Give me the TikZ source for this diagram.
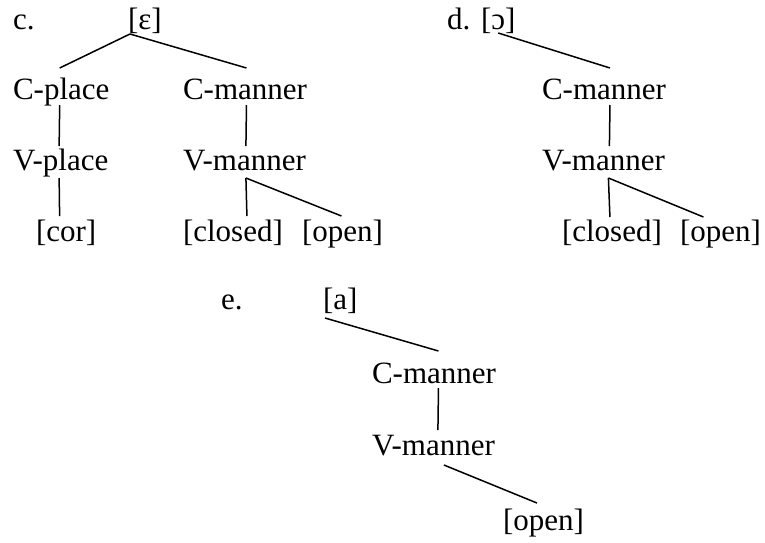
\documentclass[tikz,border=0pt]{standalone}
\usepackage{fontspec}
\setmainfont{LiberationSerif}[Extension=.ttf, UprightFont=*-Regular, BoldFont=*-Bold, ItalicFont=*-Italic, BoldItalicFont=*-BoldItalic]
\usetikzlibrary{calc}
\begin{document}
\begin{tikzpicture}[x=1pt,y=1pt,
  tx/.style={inner sep=0pt, outer sep=0pt, anchor=base west, text height=21pt, text depth=7pt, font=\rmfamily\fontsize{31}{37}\selectfont},
  br/.style={line width=1.5pt}]
\useasboundingbox (0,0) rectangle (765,-542);
% tree c
\node[tx] (c) at (13,-29) {c.};
\node[tx] (eps) at (128,-29) {[ɛ]};
\node[tx] (cp) at (13,-99) {C-place};
\node[tx] (cm1) at (183,-99) {C-manner};
\node[tx] (vp) at (13,-170) {V-place};
\node[tx] (vm1) at (183,-170) {V-manner};
\node[tx] (cor) at (36,-241) {[cor]};
\node[tx] (cl1) at (183,-241) {[closed]};
\node[tx] (op1) at (302,-241) {[open]};
% tree d
\node[tx] (d) at (447,-29) {d.};
\node[tx] (oo) at (481,-29) {[ɔ]};
\node[tx] (cm2) at (542,-99) {C-manner};
\node[tx] (vm2) at (542,-170) {V-manner};
\node[tx] (cl2) at (562,-241) {[closed]};
\node[tx] (op2) at (680,-241) {[open]};
% tree e
\node[tx] (e) at (221,-309) {e.};
\node[tx] (a) at (323,-309) {[a]};
\node[tx] (cm3) at (372,-383) {C-manner};
\node[tx] (vm3) at (372,-455) {V-manner};
\node[tx] (op3) at (503,-530) {[open]};
% connectors c
\coordinate (ce) at ($(eps.south west)+(2,2)$);
\draw[br] (ce) -- ($(cp.north)+(-1.5,10)$);
\draw[br] (ce) -- ($(cm1.north)+(1.5,10)$);
\draw[br] ($(cp.south)+(-1.5,1)$) -- ($(vp.north)+(-1.5,3)$);
\draw[br] ($(cm1.south)+(1.5,1)$) -- ($(vm1.north)+(1.5,3)$);
\draw[br] ($(vp.south)+(-1.5,-1)$) -- ($(cor.north)+(-6.5,4)$);
\coordinate (v1) at ($(vm1.south)+(1.5,-1)$);
\draw[br] (v1) -- ($(cl1.north)+(14,4)$);
\draw[br] (v1) -- ($(op1.north)+(-1,4)$);
% connectors d
\draw[br] ($(oo.south)+(0,3)$) -- ($(cm2.north)+(6,10)$);
\draw[br] ($(cm2.south)+(6,1)$) -- ($(vm2.north)+(6,3)$);
\coordinate (v2) at ($(vm2.south)+(5,-1)$);
\draw[br] (v2) -- ($(cl2.north)+(-2,3)$);
\draw[br] (v2) -- ($(op2.north)+(-17,3)$);
% connectors e
\draw[br] ($(a.south west)+(2,-2)$) -- ($(cm3.north)+(4.5,11)$);
\draw[br] ($(cm3.south)+(4.5,2)$) -- ($(vm3.north)+(4.5,4)$);
\draw[br] ($(vm3.south)+(10.5,-3)$) -- ($(op3.north)+(-6.5,6)$);
\end{tikzpicture}
\end{document}
